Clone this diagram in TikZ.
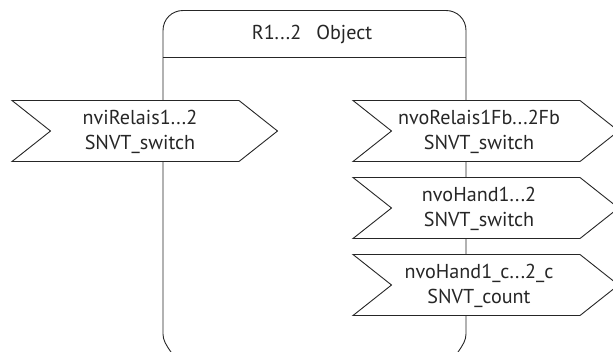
\documentclass[tikz,border=0pt]{standalone}
\usepackage{fontspec}
\setmainfont{PT Sans}
\tikzset{
  line/.style={draw=black!85, line width=0.9pt},
  porttext/.style={align=center, font=\fontsize{20.2}{25}\selectfont, text=black!85, inner sep=0pt},
  portshape/.style={line, fill=white, line join=miter},
}
\newcommand{\portat}[5]{% name, left x, top y, text, text centre x
  \path[portshape] (#2,#3) -- ++(38.5,30.5) -- ++(-38.5,30.5) -- ++(227,0) -- ++(38.5,-30.5) -- ++(-38.5,-30.5) -- cycle;
  \node[porttext] (#1) at (#5,#3+31.5) {#4};
}
\begin{document}
\begin{tikzpicture}[x=1bp,y=-1bp]
\useasboundingbox (0,0) rectangle (613,351);
\clip (0,0) rectangle (613,351);
\path[line] (171,352) .. controls (166,345) and (163,340) .. (163,334) -- (163,30.5) .. controls (163,19) and (172,10.5) .. (183,10.5) -- (446,10.5) .. controls (457,10.5) and (466,19) .. (466,30.5) -- (466,334) .. controls (466,340) and (463,345) .. (458,352);
\coordinate (hl) at (163,57);
\coordinate (hr) at (466,57);
\draw[line] (hl) -- (hr);
\node[porttext] (title) at (312,34.5) {R1...2\hspace{0.75em}Object};
\portat{pa}{12}{100.5}{nviRelais1...2\\SNVT\_switch}{140}
\portat{pb}{353}{100.5}{nvoRelais1Fb...2Fb\\SNVT\_switch}{479}
\portat{pc}{353}{177.5}{nvoHand1...2\\SNVT\_switch}{479}
\portat{pd}{353}{254.5}{nvoHand1\_c...2\_c\\SNVT\_count}{479}
\end{tikzpicture}
\end{document}
